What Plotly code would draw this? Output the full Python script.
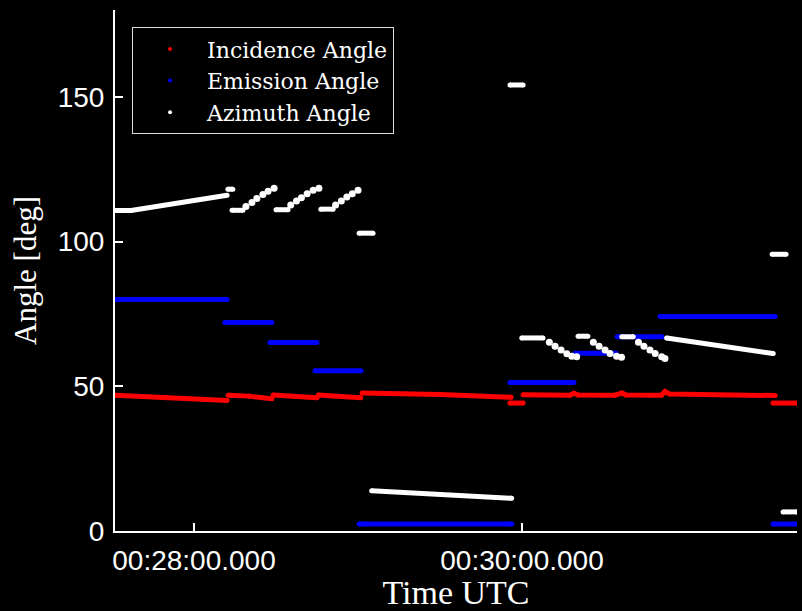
import pandas as pd
import plotly.graph_objects as go

# time values are seconds relative to 00:28:00 UTC
BASE = "2024-01-01 00:28:00"

INC_T = [[-28.9, -10.0, 12.1], [12.5, 20.0, 28.5], [29.0, 45.0], [45.5, 61.0],
         [61.5, 90.0, 116.0], [115.6, 120.4],
         [120.4, 137.5, 139.0, 140.5, 154.0, 156.6, 158.0, 171.0, 172.3, 174.0, 212.6],
         [211.8, 220.6]]
INC_A = [[46.9, 46.2, 45.1], [46.9, 46.6, 45.7], [47.0, 46.0], [47.0, 46.0],
         [47.7, 47.2, 46.2], [44.2, 44.2],
         [47.1, 46.9, 47.6, 47.0, 46.9, 47.7, 47.0, 46.9, 48.2, 47.3, 46.8],
         [44.2, 44.2]]

EMI_T = [[-28.9, 12.1], [11.3, 28.5], [27.8, 45.0], [44.3, 61.1], [60.4, 116.3],
         [115.6, 139.0], [139.4, 154.4], [154.8, 171.2], [170.5, 212.6], [211.8, 220.6]]
EMI_A = [[80.0, 80.0], [72.0, 72.0], [65.1, 65.1], [55.4, 55.4], [2.4, 2.4],
         [51.3, 51.3], [61.4, 61.4], [67.1, 67.1], [74.1, 74.1], [2.4, 2.4]]

AZI_T = [[-28.9, -23.0, 12.1], [12.4, 14.2], [13.9, 17.9],
         [19.0], [21.2], [23.0], [25.2], [27.1], [29.3],
         [30.0, 34.4],
         [35.4], [37.5], [39.3], [41.4], [43.6], [45.7],
         [46.4, 50.9],
         [51.8], [53.9], [55.9], [57.9], [60.0],
         [60.4, 65.5], [65.0, 116.2], [115.6, 120.4],
         [119.9, 127.7],
         [130.0], [132.1], [134.3], [136.4], [138.2], [140.0],
         [140.5, 144.1],
         [146.1], [148.2], [150.4], [152.2], [154.6], [156.4],
         [156.5, 160.7],
         [162.6], [164.6], [166.8], [168.7], [171.1], [172.3],
         [172.9, 211.9], [211.5, 216.6], [215.5, 220.6]]
AZI_A = [[110.7, 110.7, 116.0], [118.1, 118.1], [110.8, 110.8],
         [112.1], [113.5], [114.9], [116.3], [117.4], [118.4],
         [111.0, 111.0],
         [112.6], [114.0], [115.1], [116.5], [117.7], [118.4],
         [111.2, 111.2],
         [112.6], [114.0], [115.4], [116.5], [117.7],
         [102.9, 102.9], [13.9, 11.3], [154.1, 154.1],
         [66.7, 66.7],
         [65.2], [63.8], [62.5], [61.2], [60.4], [60.2],
         [67.3, 67.3],
         [65.2], [63.8], [62.5], [61.3], [60.4], [60.0],
         [67.1, 67.1],
         [65.2], [63.8], [62.5], [61.3], [60.2], [59.6],
         [66.7, 61.3], [95.6, 95.6], [6.6, 6.6]]

SERIES = ["Incidence Angle", "Emission Angle", "Azimuth Angle"]
COLORS = ["#ff0000", "#0000ff", "#ffffff"]
X_RANGE_S = [-28.9, 220.6]
X_TICKS_S = [0, 120]
X_TICK_TEXT = ["00:28:00.000", "00:30:00.000"]
Y_TICKS = [0, 50, 100, 150]

base = pd.Timestamp(BASE)


def to_time(s):
    return base + pd.to_timedelta(s, unit="s")


def flatten(ts, vs):
    xs, ys, sizes = [], [], []
    for t_seg, v_seg in zip(ts, vs):
        xs.extend(to_time(t) for t in t_seg)
        ys.extend(v_seg)
        sizes.extend([7 if len(t_seg) == 1 else 5] * len(t_seg))
        xs.append(None)
        ys.append(None)
        sizes.append(5)
    return xs, ys, sizes


fig = go.Figure()
for name, color, (ts, vs) in zip(SERIES, COLORS,
                                 [(INC_T, INC_A), (EMI_T, EMI_A), (AZI_T, AZI_A)]):
    xs, ys, sizes = flatten(ts, vs)
    fig.add_trace(go.Scatter(x=xs, y=ys, mode="lines+markers", name=name,
                             line=dict(color=color, width=5),
                             marker=dict(color=color, size=sizes, opacity=1,
                                         line=dict(width=0)),
                             showlegend=False, connectgaps=False))
for name, color in zip(SERIES, COLORS):
    fig.add_trace(go.Scatter(x=[None], y=[None], mode="markers", name=name,
                             marker=dict(color=color, size=4)))

serif = "Liberation Serif, Times New Roman, serif"
legend_serif = "DejaVu Serif, Liberation Serif, serif"
sans = "Liberation Sans, Arial, sans-serif"

fig.update_layout(
    width=802, height=611,
    margin=dict(l=115, r=5, t=10, b=80),
    paper_bgcolor="black", plot_bgcolor="black",
    legend=dict(x=0.025, y=0.967, xanchor="left", yanchor="top",
                bgcolor="black", bordercolor="#dddddd", borderwidth=1,
                font=dict(family=legend_serif, size=22, color="white"),
                itemwidth=64),
    xaxis=dict(type="date", automargin=False,
               range=[to_time(X_RANGE_S[0]), to_time(X_RANGE_S[1])],
               tickvals=[to_time(s) for s in X_TICKS_S], ticktext=X_TICK_TEXT,
               ticks="inside", ticklen=8, tickwidth=1.5, tickcolor="white",
               showline=True, linecolor="white", linewidth=2,
               showgrid=False, zeroline=False,
               tickfont=dict(family=sans, size=28, color="white"),
               ticklabelstandoff=3,
               title=dict(text="Time UTC", standoff=17,
                          font=dict(family=serif, size=34, color="white"))),
    yaxis=dict(range=[0, 180], tickvals=Y_TICKS, automargin=False,
               ticks="inside", ticklen=8, tickwidth=1.5, tickcolor="white",
               showline=True, linecolor="white", linewidth=2,
               showgrid=False, zeroline=False,
               tickfont=dict(family=sans, size=28, color="white"),
               ticklabelstandoff=3,
               title=dict(text="Angle [deg]", standoff=12,
                          font=dict(family=serif, size=31, color="white"))),
)

fig.write_html("out.html")
